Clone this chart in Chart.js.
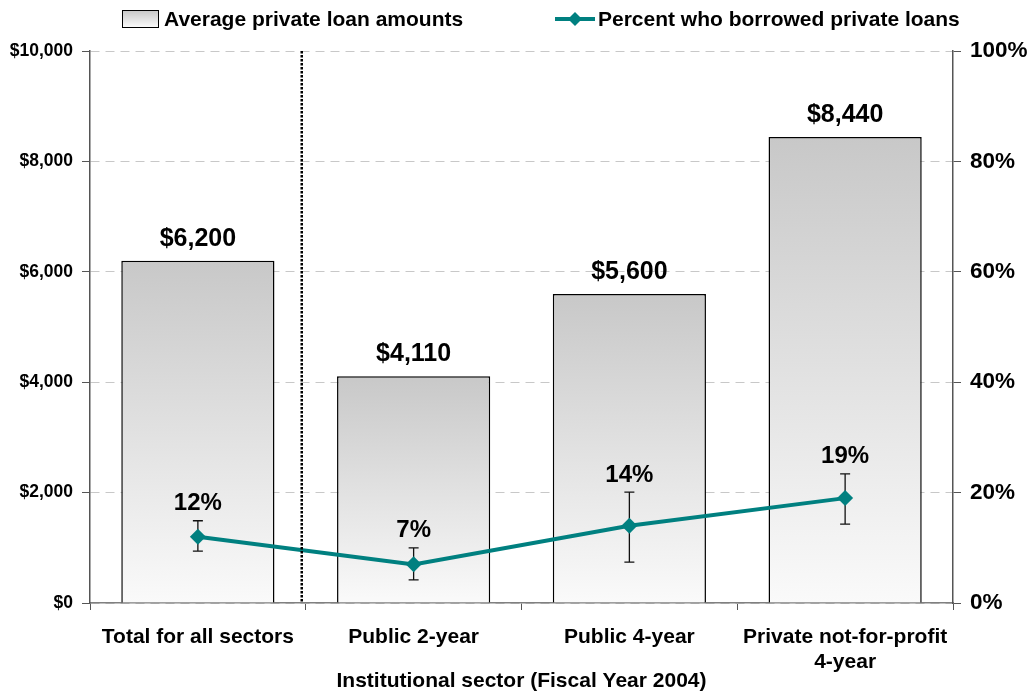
<!DOCTYPE html>
<html>
<head>
<meta charset="utf-8">
<script src="https://cdn.jsdelivr.net/npm/chart.js@4"></script>
<style>
  html, body { margin: 0; padding: 0; background: #fff; }
  #wrap { position: relative; width: 1034px; height: 694px; font-family: "Liberation Sans", Arial, sans-serif; }
  #legend { position: absolute; top: 5px; left: 0; width: 1034px; height: 28px; font-weight: bold; font-size: 21px; color: #000; }
  .item { position: absolute; top: 0; display: flex; align-items: center; height: 28px; }
  .box { width: 35px; height: 16px; border: 1.5px solid #000; background: linear-gradient(#c9c9c9, #fafafa); margin-right: 5px; }
</style>
</head>
<body>
<div id="wrap">
  <canvas id="chart" width="1034" height="694"></canvas>
  <div id="legend">
    <div class="item" style="left:122px"><div class="box"></div><span>Average private loan amounts</span></div>
    <div class="item" style="left:555px">
      <svg width="40" height="20" style="margin-right:3px"><line x1="0" y1="10" x2="40" y2="10" stroke="#008080" stroke-width="4"/><polygon points="20,3 27,10 20,17 13,10" fill="#008080"/></svg>
      <span>Percent who borrowed private loans</span>
    </div>
  </div>
</div>
<script>
const categories = ['Total for all sectors', 'Public 2-year', 'Public 4-year', ['Private not-for-profit', '4-year']];
const loanAmounts = [6200, 4110, 5600, 8440];
const percentBorrowed = [12, 7, 14, 19];
const errLow = [9.4, 4.2, 7.4, 14.3];
const errHigh = [14.9, 10.0, 20.1, 23.4];
const leftTicks = [0, 2000, 4000, 6000, 8000, 10000];
const rightTicks = [0, 20, 40, 60, 80, 100];

const FONT = '"Liberation Sans", Arial, sans-serif';
const TEAL = '#008080';

function barGradient(context) {
  const chart = context.chart;
  const y = chart.scales.y;
  if (!y || context.raw === undefined) return '#e0e0e0';
  const top = y.getPixelForValue(context.raw);
  const bottom = y.getPixelForValue(0);
  if (!isFinite(top) || !isFinite(bottom) || top === bottom) return '#e0e0e0';
  const g = chart.ctx.createLinearGradient(0, top, 0, bottom);
  g.addColorStop(0, '#c8c8c8');
  g.addColorStop(1, '#fafafa');
  return g;
}

// error bars under the line, labels and the dotted divider on top
const extras = {
  id: 'extras',
  beforeDatasetDraw(chart, args) {
    if (args.index !== 1) return;
    const ctx = chart.ctx;
    const x = chart.scales.x;
    const y1 = chart.scales.y1;
    ctx.save();
    ctx.strokeStyle = '#111';
    ctx.lineWidth = 1.3;
    percentBorrowed.forEach((v, i) => {
      const px = x.getPixelForValue(i);
      const t = y1.getPixelForValue(errHigh[i]);
      const b = y1.getPixelForValue(errLow[i]);
      ctx.beginPath();
      ctx.moveTo(px, t); ctx.lineTo(px, b);
      ctx.moveTo(px - 5, t); ctx.lineTo(px + 5, t);
      ctx.moveTo(px - 5, b); ctx.lineTo(px + 5, b);
      ctx.stroke();
    });
    ctx.restore();
  },
  afterDatasetsDraw(chart) {
    const ctx = chart.ctx;
    const x = chart.scales.x;
    const y = chart.scales.y;
    const y1 = chart.scales.y1;
    const area = chart.chartArea;
    ctx.save();
    // dotted divider between the total and the sectors
    const dx = (x.getPixelForValue(0) + x.getPixelForValue(1)) / 2 - 4;
    ctx.strokeStyle = '#000';
    ctx.lineWidth = 2.5;
    ctx.setLineDash([2.5, 1.5]);
    ctx.beginPath();
    ctx.moveTo(dx, area.top);
    ctx.lineTo(dx, area.bottom);
    ctx.stroke();
    ctx.setLineDash([]);

    ctx.fillStyle = '#000';
    ctx.textAlign = 'center';
    ctx.textBaseline = 'middle';
    ctx.font = 'bold 25px ' + FONT;
    loanAmounts.forEach((v, i) => {
      ctx.fillText('$' + v.toLocaleString('en-US'), x.getPixelForValue(i), y.getPixelForValue(v) - 22);
    });
    ctx.font = 'bold 24px ' + FONT;
    percentBorrowed.forEach((v, i) => {
      ctx.fillText(v + '%', x.getPixelForValue(i), y1.getPixelForValue(errHigh[i]) - 17);
    });
    ctx.restore();
  }
};

const config = {
  data: {
    labels: categories,
    datasets: [
      {
        type: 'bar',
        label: 'Average private loan amounts',
        data: loanAmounts,
        yAxisID: 'y',
        backgroundColor: barGradient,
        borderColor: '#000',
        borderWidth: 1.5,
        barPercentage: 0.71,
        categoryPercentage: 1,
        order: 2
      },
      {
        type: 'line',
        label: 'Percent who borrowed private loans',
        data: percentBorrowed,
        yAxisID: 'y1',
        borderColor: TEAL,
        backgroundColor: TEAL,
        borderWidth: 4,
        pointStyle: 'rectRot',
        pointRadius: 8,
        pointBorderWidth: 0,
        tension: 0,
        order: 1
      }
    ]
  },
  options: {
    responsive: false,
    animation: false,
    layout: { padding: { top: 51, left: 0, right: 0, bottom: 0 } },
    plugins: {
      legend: { display: false },
      tooltip: { enabled: false },
      title: { display: false }
    },
    scales: {
      x: {
        offset: true,
        grid: {
          offset: true,
          drawOnChartArea: false,
          tickLength: 7,
          tickColor: '#555'
        },
        border: { color: '#808080', width: 1.5 },
        ticks: {
          color: '#000',
          padding: 14,
          maxRotation: 0,
          font: { family: FONT, size: 21, weight: 'bold', lineHeight: 1.22 }
        },
        title: {
          display: true,
          text: 'Institutional sector (Fiscal Year 2004)',
          color: '#000',
          padding: { top: 0, bottom: 0 },
          font: { family: FONT, size: 21, weight: 'bold' }
        },
        afterFit: (s) => { s.height = 91; }
      },
      y: {
        position: 'left',
        min: 0,
        max: 10000,
        afterBuildTicks: (s) => { s.ticks = leftTicks.map(v => ({ value: v })); },
        grid: {
          color: '#c8c8c8',
          lineWidth: 1,
          tickLength: 8,
          tickColor: '#555',
          tickBorderDash: []
        },
        border: { color: '#555', width: 1.5, dash: [9, 6] },
        ticks: {
          color: '#000',
          padding: 9,
          font: { family: FONT, size: 17.5, weight: 'bold' },
          callback: (v) => '$' + Number(v).toLocaleString('en-US')
        },
        afterFit: (s) => { s.width = 90; }
      },
      y1: {
        position: 'right',
        min: 0,
        max: 100,
        afterBuildTicks: (s) => { s.ticks = rightTicks.map(v => ({ value: v })); },
        grid: {
          drawOnChartArea: false,
          tickLength: 8,
          tickColor: '#555'
        },
        border: { color: '#555', width: 1.5 },
        ticks: {
          color: '#000',
          padding: 9,
          font: { family: FONT, size: 22.5, weight: 'bold' },
          callback: (v) => v + '%'
        },
        afterFit: (s) => { s.width = 81; }
      }
    }
  },
  plugins: [extras]
};

new Chart(document.getElementById('chart'), config);
</script>
</body>
</html>
